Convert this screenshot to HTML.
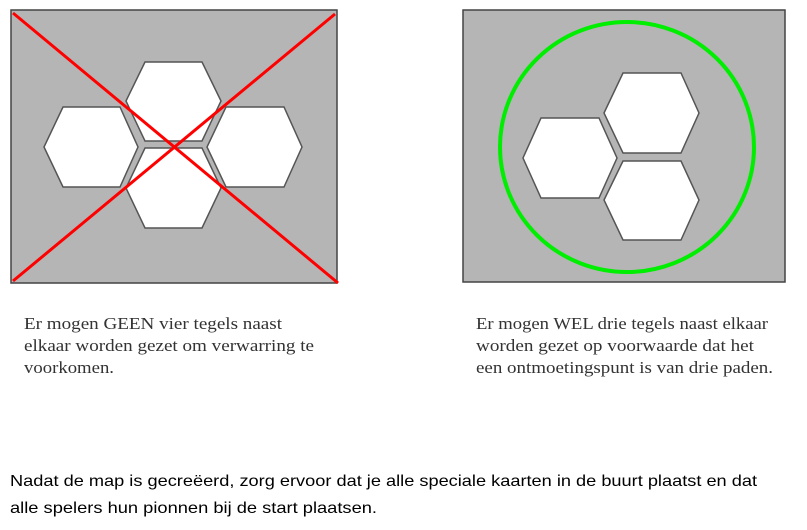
<!DOCTYPE html>
<html><head><meta charset="utf-8"><style>html,body{margin:0;padding:0;background:#fff;}svg{display:block}</style></head>
<body>
<svg width="807" height="530" viewBox="0 0 807 530" xmlns="http://www.w3.org/2000/svg">
<rect x="11" y="10" width="326" height="273" fill="#b5b5b5" stroke="#444" stroke-width="1.5"/>
<g fill="#fff" stroke="#555" stroke-width="1.5">
<polygon points="63,107 120,107 138,147 120,187 63,187 44,147"/>
<polygon points="145,62 202,62 221,101 202,141 145,141 126,101"/>
<polygon points="145,148 202,148 221,188 202,228 145,228 126,188"/>
<polygon points="226,107 284,107 302,147 284,187 226,187 207,147"/>
</g>
<g stroke="#ff0000" stroke-width="3">
<line x1="13" y1="13" x2="338" y2="283"/>
<line x1="13" y1="281" x2="335" y2="14"/>
</g>
<rect x="463" y="10" width="322" height="272" fill="#b5b5b5" stroke="#444" stroke-width="1.5"/>
<ellipse cx="627" cy="147" rx="127" ry="125" fill="none" stroke="#00ee00" stroke-width="4"/>
<g fill="#fff" stroke="#555" stroke-width="1.5">
<polygon points="623,73 681,73 699,113 681,153 623,153 604,113"/>
<polygon points="541,118 599,118 617,158 599,198 541,198 523,158"/>
<polygon points="623,161 681,161 699,200 681,240 623,240 604,200"/>
</g>
<g font-family="Liberation Serif, serif" font-size="17" fill="#333">
<text x="24" y="329" textLength="258" lengthAdjust="spacingAndGlyphs">Er mogen GEEN vier tegels naast</text>
<text x="24" y="351" textLength="290" lengthAdjust="spacingAndGlyphs">elkaar worden gezet om verwarring te</text>
<text x="24" y="373" textLength="90" lengthAdjust="spacingAndGlyphs">voorkomen.</text>
<text x="476" y="329" textLength="292" lengthAdjust="spacingAndGlyphs">Er mogen WEL drie tegels naast elkaar</text>
<text x="476" y="351" textLength="278" lengthAdjust="spacingAndGlyphs">worden gezet op voorwaarde dat het</text>
<text x="476" y="373" textLength="297" lengthAdjust="spacingAndGlyphs">een ontmoetingspunt is van drie paden.</text>
</g>
<g font-family="Liberation Sans, sans-serif" font-size="16" fill="#000">
<text x="10" y="486" textLength="747" lengthAdjust="spacingAndGlyphs">Nadat de map is gecreëerd, zorg ervoor dat je alle speciale kaarten in de buurt plaatst en dat</text>
<text x="10" y="513" textLength="367" lengthAdjust="spacingAndGlyphs">alle spelers hun pionnen bij de start plaatsen.</text>
</g>
</svg>
</body></html>
